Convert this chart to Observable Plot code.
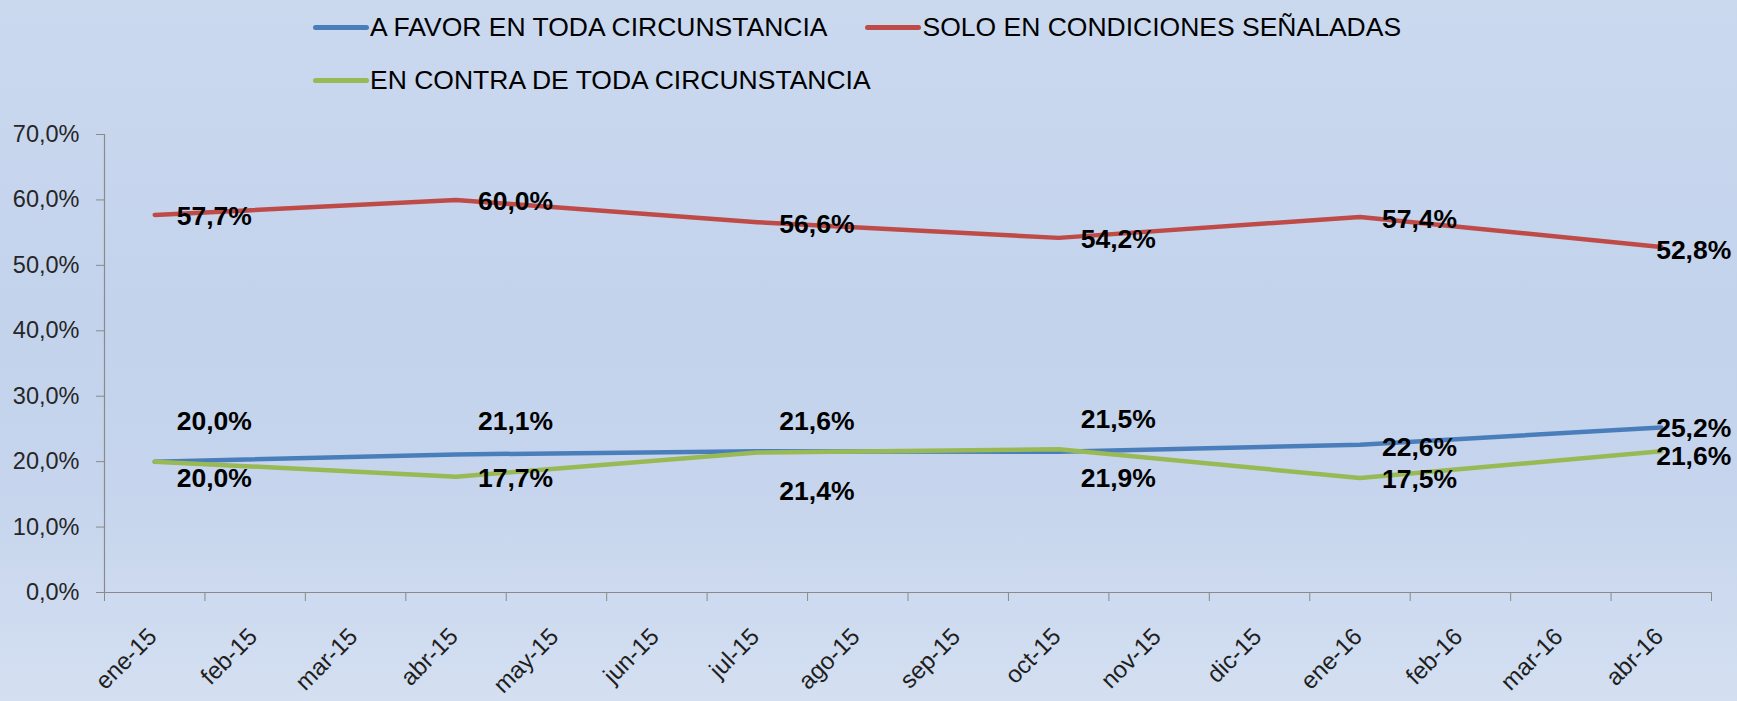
<!DOCTYPE html>
<html>
<head>
<meta charset="utf-8">
<script src="https://cdn.jsdelivr.net/npm/d3@7"></script>
<script src="https://cdn.jsdelivr.net/npm/@observablehq/plot@0.6"></script>
<style>
  html, body { margin: 0; padding: 0; }
  body {
    width: 1737px; height: 701px; overflow: hidden;
    background: linear-gradient(to bottom, #cbd9ef 0%, #c3d3ec 45%, #c6d5ed 70%, #d4dff1 100%);
    font-family: "Liberation Sans", Arial, sans-serif;
  }
  #legend {
    box-sizing: border-box;
    height: 100px;
    width: 1430px;
    padding-left: 313px;
    padding-top: 12px;
    display: flex; flex-wrap: wrap;
    column-gap: 38px; row-gap: 23px;
    align-content: flex-start;
  }
  .item { display: flex; align-items: center; height: 30px; }
  .sw { width: 56px; height: 5px; border-radius: 3px; margin-right: 1px; }
  .lbl { font-size: 26.5px; color: #000; white-space: nowrap; }
  #chart svg { display: block; }
</style>
</head>
<body>
<div id="legend"></div>
<div id="chart"></div>
<script>
// ---- data ----
const months = ["ene-15","feb-15","mar-15","abr-15","may-15","jun-15","jul-15","ago-15",
                "sep-15","oct-15","nov-15","dic-15","ene-16","feb-16","mar-16","abr-16"];
const surveyMonths = ["ene-15","abr-15","jul-15","oct-15","ene-16","abr-16"];
const seriesNames = ["A FAVOR EN TODA CIRCUNSTANCIA", "SOLO EN CONDICIONES SEÑALADAS", "EN CONTRA DE TODA CIRCUNSTANCIA"];
const aFavor = [20.0, 21.1, 21.6, 21.5, 22.6, 25.2];
const soloCondiciones = [57.7, 60.0, 56.6, 54.2, 57.4, 52.8];
const enContra = [20.0, 17.7, 21.4, 21.9, 17.5, 21.6];
const yTicks = [0, 10, 20, 30, 40, 50, 60, 70];

// ---- styling / label layout (kept apart from the values) ----
const seriesColors = ["#4a7ebb", "#be4b48", "#98b954"];
const labelDy = [
  [-40, -33, -30, -32, 3, 1],   // A FAVOR
  [2, 2, 2, 2, 3, 3],           // SOLO
  [17, 2, 39, 29, 2, 5]         // EN CONTRA
];

const seriesValues = [aFavor, soloCondiciones, enContra];
const rows = [];
seriesNames.forEach((name, s) => {
  seriesValues[s].forEach((v, i) => {
    rows.push({series: name, s, i, xi: months.indexOf(surveyMonths[i]), value: v});
  });
});

const fmt = v => v.toFixed(1).replace(".", ",") + "%";

// legend
const legend = document.getElementById("legend");
seriesNames.forEach((name, s) => {
  const it = document.createElement("div");
  it.className = "item";
  it.innerHTML = `<div class="sw" style="background:${seriesColors[s]}"></div><div class="lbl">${name}</div>`;
  legend.appendChild(it);
});

const lastIndex = months.length - 1;
const labelMarks = rows.map(r => {
  const atEnd = r.xi === lastIndex;
  return Plot.text([r], {
    x: "xi", y: "value", text: d => fmt(d.value),
    textAnchor: atEnd ? "end" : "start",
    dx: atEnd ? 70 : 22,
    dy: labelDy[r.s][r.i],
    fontSize: 26.5, fontWeight: "bold", fill: "#000"
  });
});

const axisColor = "#8a8a8a";
const chart = Plot.plot({
  width: 1737,
  height: 601,
  marginTop: 34,
  marginBottom: 109,
  marginLeft: 104,
  marginRight: 26,
  style: {background: "transparent", fontFamily: "'Liberation Sans', Arial, sans-serif"},
  x: {type: "linear", domain: [-0.5, months.length - 0.5]},
  y: {domain: [0, 70]},
  color: {domain: seriesNames, range: seriesColors},
  marks: [
    Plot.axisY({ticks: yTicks, tickSize: 8, tickPadding: 17, tickFormat: fmt,
                fontSize: 23.5, stroke: axisColor, fill: "#262626", label: null}),
    Plot.axisX({ticks: d3.range(months.length + 1).map(i => i - 0.5), tickSize: 9,
                tickFormat: () => "", stroke: axisColor, label: null}),
    Plot.axisX({ticks: d3.range(months.length), tickSize: 0, tickPadding: 40, tickRotate: -45,
                tickFormat: i => months[i], fontSize: 24, dx: -2, fill: "#1e1e1e", label: null}),
    Plot.ruleX([-0.5], {stroke: axisColor, strokeWidth: 1.2}),
    Plot.ruleY([0], {stroke: axisColor, strokeWidth: 1.2}),
    Plot.line(rows, {x: "xi", y: "value", z: "series", stroke: "series",
                     strokeWidth: 4.5, strokeLinecap: "round", strokeLinejoin: "round"}),
    ...labelMarks
  ]
});
document.getElementById("chart").appendChild(chart);
</script>
</body>
</html>
